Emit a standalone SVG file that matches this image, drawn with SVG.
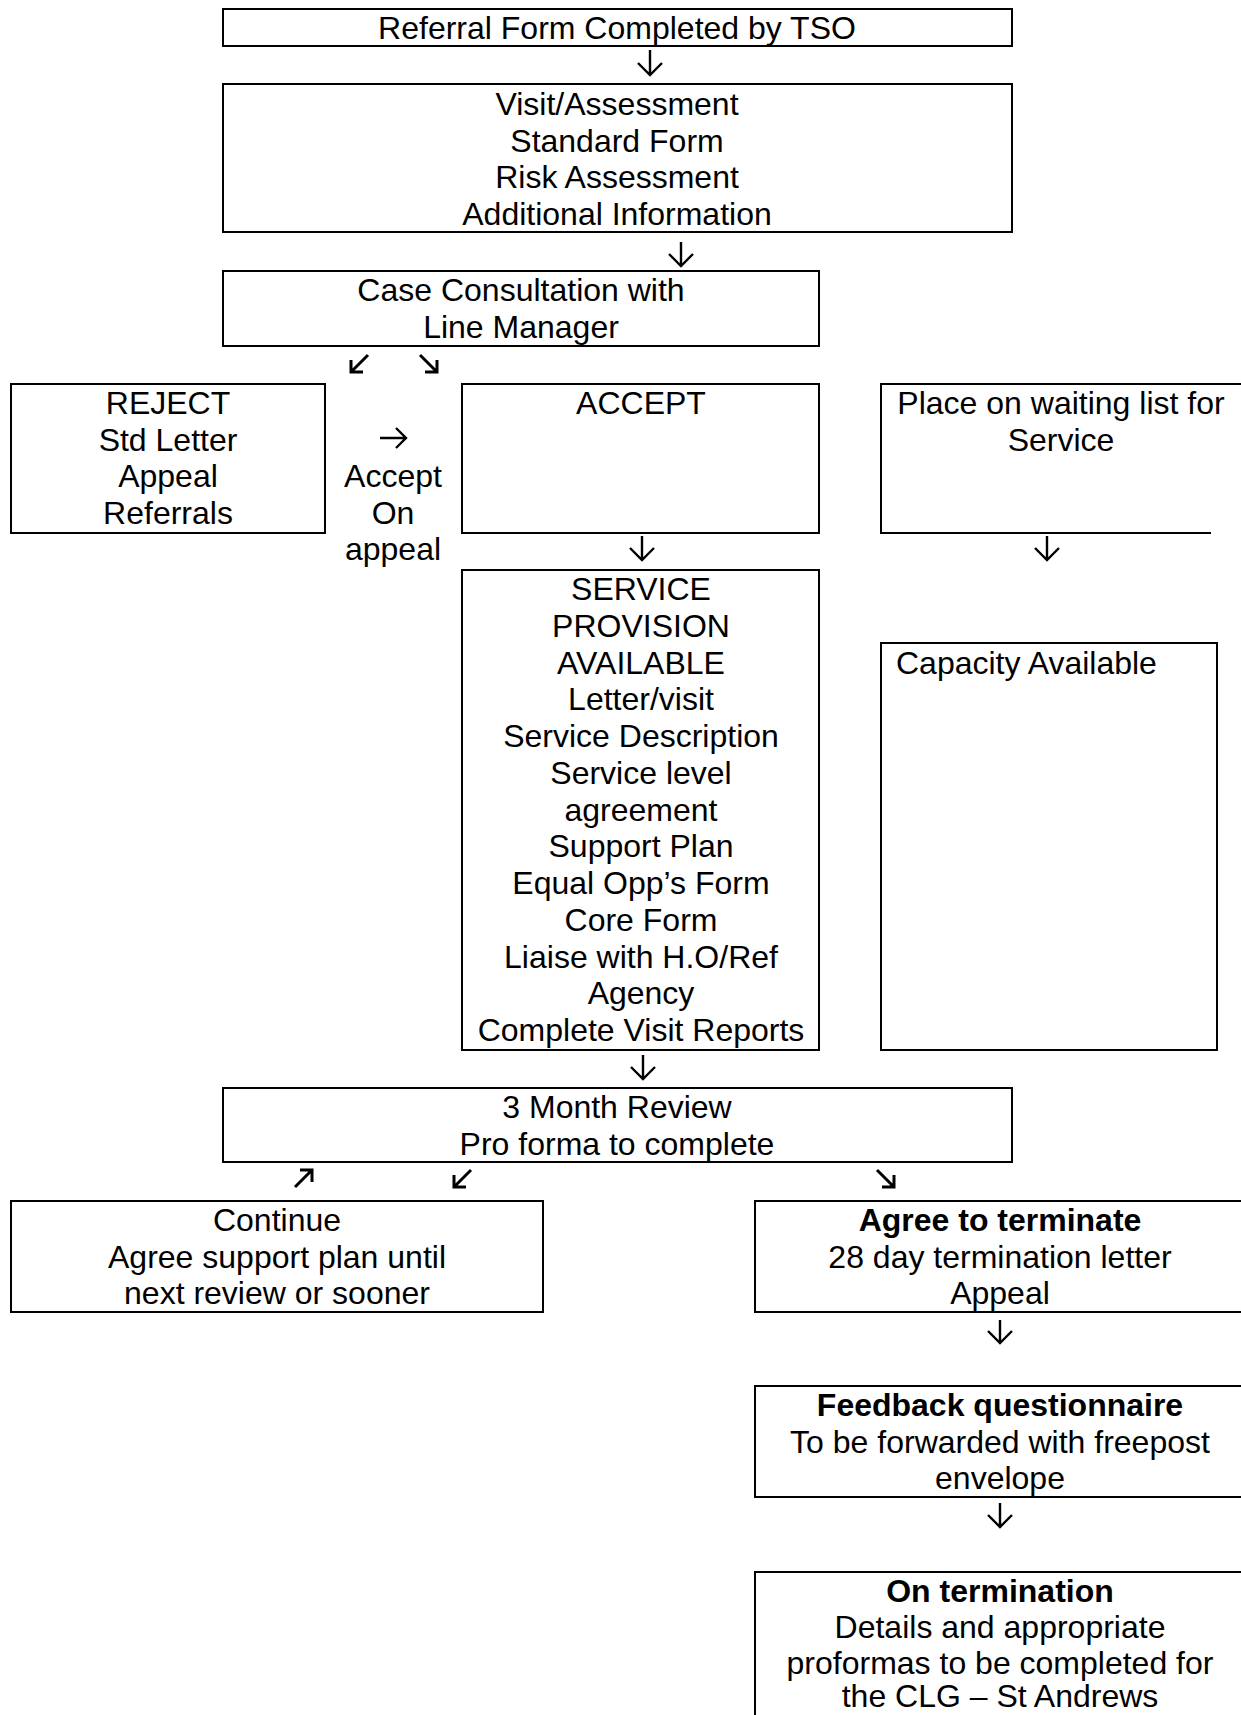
<svg xmlns="http://www.w3.org/2000/svg" width="1241" height="1715" viewBox="0 0 1241 1715">
<style>
  .box { fill: none; stroke: #000; stroke-width: 2; }
  .t { font-family: "Liberation Sans", Arial, sans-serif; font-size: 32px; fill: #000; text-anchor: middle; }
  .l { text-anchor: start; }
  .b { font-weight: bold; }
  .arr { fill: none; stroke: #000; stroke-width: 2.4; stroke-linecap: butt; stroke-linejoin: miter; }
  .diag { stroke-width: 3; }
</style>
<rect x="0" y="0" width="1241" height="1715" fill="#fff"/>

<g id="referral">
  <rect class="box" x="223" y="9" width="789" height="37"/>
  <text class="t" x="617" y="39">Referral Form Completed by TSO</text>
</g>

<g id="visit">
  <rect class="box" x="223" y="84" width="789" height="148"/>
  <text class="t" x="617" y="115">Visit/Assessment</text>
  <text class="t" x="617" y="151.5">Standard Form</text>
  <text class="t" x="617" y="188">Risk Assessment</text>
  <text class="t" x="617" y="224.5">Additional Information</text>
</g>

<g id="consultation">
  <rect class="box" x="223" y="271" width="596" height="75"/>
  <text class="t" x="521" y="301">Case Consultation with</text>
  <text class="t" x="521" y="337.5">Line Manager</text>
</g>

<g id="reject">
  <rect class="box" x="11" y="384" width="314" height="149"/>
  <text class="t" x="168" y="414">REJECT</text>
  <text class="t" x="168" y="450.5">Std Letter</text>
  <text class="t" x="168" y="487">Appeal</text>
  <text class="t" x="168" y="523.5">Referrals</text>
</g>

<g id="accept-on-appeal">
  <text class="t" x="393" y="487">Accept</text>
  <text class="t" x="393" y="523.5">On</text>
  <text class="t" x="393" y="560">appeal</text>
</g>

<g id="accept">
  <rect class="box" x="462" y="384" width="357" height="149"/>
  <text class="t" x="641" y="414">ACCEPT</text>
</g>

<g id="waiting">
  <path class="box" d="M1245,384 H881 V533 H1211"/>
  <text class="t" x="1061" y="414">Place on waiting list for</text>
  <text class="t" x="1061" y="450.5">Service</text>
</g>

<g id="service">
  <rect class="box" x="462" y="570" width="357" height="480"/>
  <text class="t" x="641" y="600">SERVICE</text>
  <text class="t" x="641" y="636.75">PROVISION</text>
  <text class="t" x="641" y="673.5">AVAILABLE</text>
  <text class="t" x="641" y="710.25">Letter/visit</text>
  <text class="t" x="641" y="747">Service Description</text>
  <text class="t" x="641" y="783.75">Service level</text>
  <text class="t" x="641" y="820.5">agreement</text>
  <text class="t" x="641" y="857.25">Support Plan</text>
  <text class="t" x="641" y="894">Equal Opp’s Form</text>
  <text class="t" x="641" y="930.75">Core Form</text>
  <text class="t" x="641" y="967.5">Liaise with H.O/Ref</text>
  <text class="t" x="641" y="1004.25">Agency</text>
  <text class="t" x="641" y="1041">Complete Visit Reports</text>
</g>

<g id="capacity">
  <rect class="box" x="881" y="643" width="336" height="407"/>
  <text class="t l" x="896" y="673.5">Capacity Available</text>
</g>

<g id="review">
  <rect class="box" x="223" y="1088" width="789" height="74"/>
  <text class="t" x="617" y="1118">3 Month Review</text>
  <text class="t" x="617" y="1155">Pro forma to complete</text>
</g>

<g id="continue">
  <rect class="box" x="11" y="1201" width="532" height="111"/>
  <text class="t" x="277" y="1231">Continue</text>
  <text class="t" x="277" y="1267.5">Agree support plan until</text>
  <text class="t" x="277" y="1304">next review or sooner</text>
</g>

<g id="terminate">
  <rect class="box" x="755" y="1201" width="500" height="111"/>
  <text class="t b" x="1000" y="1231">Agree to terminate</text>
  <text class="t" x="1000" y="1267.5">28 day termination letter</text>
  <text class="t" x="1000" y="1304">Appeal</text>
</g>

<g id="feedback">
  <rect class="box" x="755" y="1386" width="500" height="111"/>
  <text class="t b" x="1000" y="1416">Feedback questionnaire</text>
  <text class="t" x="1000" y="1452.5">To be forwarded with freepost</text>
  <text class="t" x="1000" y="1489">envelope</text>
</g>

<g id="on-termination">
  <rect class="box" x="755" y="1572" width="500" height="200"/>
  <text class="t b" x="1000" y="1602">On termination</text>
  <text class="t" x="1000" y="1638">Details and appropriate</text>
  <text class="t" x="1000" y="1674">proformas to be completed for</text>
  <text class="t" x="1000" y="1707">the CLG – St Andrews</text>
</g>

<g id="connectors">
  <!-- down arrows -->
  <path class="arr" d="M650,50 V75 M638,63 L650,75 L662,63"/>
  <path class="arr" d="M681,242 V266 M669,254 L681,266 L693,254"/>
  <path class="arr" d="M642,536 V560 M630,548 L642,560 L654,548"/>
  <path class="arr" d="M1047,536 V560 M1035,548 L1047,560 L1059,548"/>
  <path class="arr" d="M643,1055 V1079 M631,1067 L643,1079 L655,1067"/>
  <path class="arr" d="M1000,1320 V1343 M988,1331 L1000,1343 L1012,1331"/>
  <path class="arr" d="M1000,1503 V1527 M988,1515 L1000,1527 L1012,1515"/>
  <!-- upper diagonal arrows -->
  <path class="arr diag" d="M368,355 L351,372 M351,360 V372 H363"/>
  <path class="arr diag" d="M420,355 L437,372 M437,360 V372 H425"/>
  <!-- right arrow (accept on appeal) -->
  <path class="arr" d="M380,438 H406 M396,428 L406,438 L396,448"/>
  <!-- lower diagonal arrows -->
  <path class="arr diag" d="M295,1187 L312,1170 M300,1170 H312 V1182"/>
  <path class="arr diag" d="M471,1170 L454,1187 M454,1175 V1187 H466"/>
  <path class="arr diag" d="M877,1170 L894,1187 M894,1175 V1187 H882"/>
</g>
</svg>
